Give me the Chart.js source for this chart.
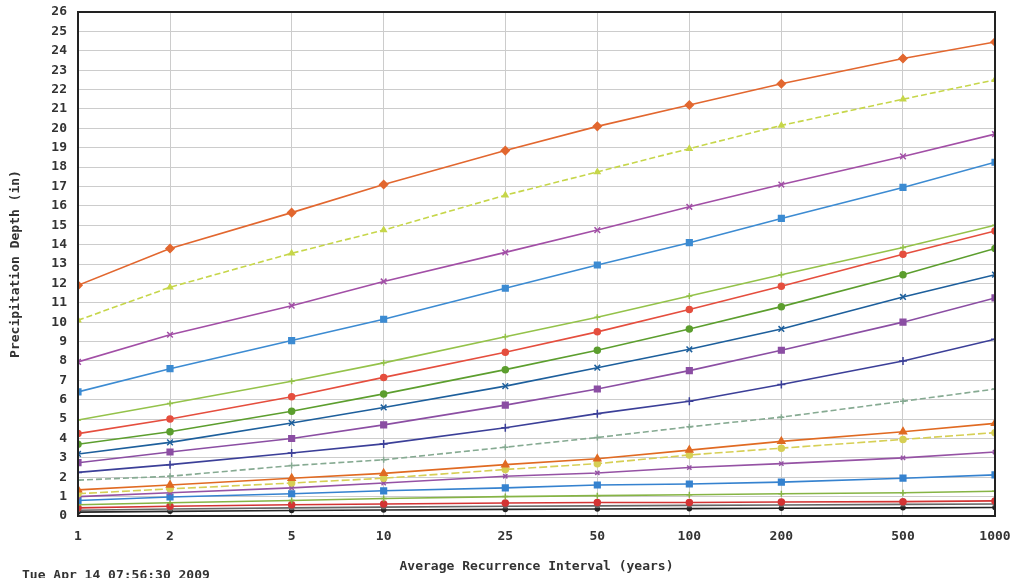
<!DOCTYPE html>
<html>
<head>
<meta charset="utf-8">
<script src="https://cdn.jsdelivr.net/npm/chart.js@4.4.1/dist/chart.umd.min.js"></script>
<style>
  html, body { margin: 0; padding: 0; background: #fff; }
  #wrap { width: 1017px; height: 578px; position: relative; }
</style>
</head>
<body>
<div id="wrap"><canvas id="pfChart"></canvas></div>
<script>
// recurrence intervals (years)
const ari = [1, 2, 5, 10, 25, 50, 100, 200, 500, 1000];
const yTicks = [0,1,2,3,4,5,6,7,8,9,10,11,12,13,14,15,16,17,18,19,20,21,22,23,24,25,26];

// depths (in) per duration
const d60day = [11.9, 13.8, 15.65, 17.1, 18.85, 20.1, 21.2, 22.3, 23.6, 24.45];
const d45day = [10.1, 11.8, 13.55, 14.75, 16.55, 17.75, 18.95, 20.15, 21.5, 22.5];
const d30day = [7.95, 9.35, 10.85, 12.1, 13.6, 14.75, 15.95, 17.1, 18.55, 19.7];
const d20day = [6.4, 7.6, 9.05, 10.15, 11.75, 12.95, 14.1, 15.35, 16.95, 18.25];
const d10day = [4.95, 5.8, 6.95, 7.9, 9.25, 10.25, 11.35, 12.45, 13.85, 15.0];
const d7day  = [4.25, 5.0, 6.15, 7.15, 8.45, 9.5, 10.65, 11.85, 13.5, 14.7];
const d4day  = [3.7, 4.35, 5.4, 6.3, 7.55, 8.55, 9.65, 10.8, 12.45, 13.8];
const d3day  = [3.2, 3.8, 4.8, 5.6, 6.7, 7.65, 8.6, 9.65, 11.3, 12.45];
const d2day  = [2.75, 3.3, 4.0, 4.7, 5.72, 6.55, 7.5, 8.55, 10.0, 11.25];
const d24hr  = [2.25, 2.65, 3.25, 3.72, 4.55, 5.28, 5.92, 6.78, 8.0, 9.12];
const d12hr  = [1.85, 2.05, 2.6, 2.9, 3.55, 4.05, 4.6, 5.1, 5.92, 6.55];
const d6hr   = [1.35, 1.6, 1.95, 2.2, 2.65, 2.95, 3.4, 3.85, 4.35, 4.78];
const d3hr   = [1.15, 1.4, 1.7, 1.95, 2.4, 2.7, 3.15, 3.5, 3.95, 4.3];
const d2hr   = [1.0, 1.2, 1.45, 1.7, 2.05, 2.22, 2.5, 2.7, 3.0, 3.3];
const d60min = [0.8, 0.98, 1.15, 1.3, 1.45, 1.6, 1.65, 1.75, 1.95, 2.12];
const d30min = [0.58, 0.68, 0.8, 0.9, 1.0, 1.05, 1.1, 1.15, 1.2, 1.28];
const d15min = [0.42, 0.5, 0.58, 0.62, 0.67, 0.7, 0.7, 0.72, 0.74, 0.78];
const d10min = [0.3, 0.36, 0.42, 0.46, 0.5, 0.52, 0.55, 0.57, 0.6, 0.62];
const d5min  = [0.2, 0.24, 0.28, 0.31, 0.34, 0.36, 0.38, 0.4, 0.42, 0.44];

const stamp = 'Tue Apr 14 07:56:30 2009';
const monoFont = '"DejaVu Sans Mono", "Liberation Mono", monospace';

function serie(label, vals, color, style, radius, dash) {
    return {
        label: label,
        data: vals.map((v, i) => ({ x: ari[i], y: v })),
        borderColor: color,
        backgroundColor: color,
        borderWidth: 1.6,
        borderDash: dash || [],
        pointStyle: style,
        pointRadius: radius,
        pointBorderWidth: 1.5,
        tension: 0,
        fill: false
    };
}

// moldura completa + texto de data no canto inferior
const framePlugin = {
    id: 'frame',
    afterDraw(chart) {
        const ctx = chart.ctx;
        const a = chart.chartArea;
        ctx.save();
        ctx.strokeStyle = '#222';
        ctx.lineWidth = 2;
        ctx.strokeRect(a.left, a.top, a.right - a.left, a.bottom - a.top);
        ctx.font = 'bold 13px ' + monoFont;
        ctx.fillStyle = '#333';
        ctx.textBaseline = 'top';
        ctx.fillText(stamp, 22, 569);
        ctx.restore();
    }
};

document.addEventListener('DOMContentLoaded', function() {
    const ctx = document.getElementById('pfChart');
    new Chart(ctx, {
        type: 'line',
        data: {
            datasets: [
                serie('60-day', d60day, '#e2672f', 'rectRot', 4),
                serie('45-day', d45day, '#c6d64a', 'triangle', 3, [6, 3]),
                serie('30-day', d30day, '#a24fa6', 'crossRot', 4),
                serie('20-day', d20day, '#3c8bd2', 'rect', 4),
                serie('10-day', d10day, '#94c24a', 'cross', 3),
                serie('7-day', d7day, '#e54e3e', 'circle', 3),
                serie('4-day', d4day, '#5c9e2e', 'circle', 3),
                serie('3-day', d3day, '#1d5f9c', 'crossRot', 4),
                serie('2-day', d2day, '#8b4ea3', 'rect', 4),
                serie('24-hr', d24hr, '#3b3f98', 'cross', 4),
                serie('12-hr', d12hr, '#86aa92', 'cross', 3, [6, 3]),
                serie('6-hr', d6hr, '#e06a22', 'triangle', 4),
                serie('3-hr', d3hr, '#d6cf55', 'circle', 3, [8, 3]),
                serie('2-hr', d2hr, '#9552a4', 'crossRot', 3),
                serie('60-min', d60min, '#3582cf', 'rect', 4),
                serie('30-min', d30min, '#86b445', 'cross', 3),
                serie('15-min', d15min, '#d33434', 'circle', 3),
                serie('10-min', d10min, '#666666', 'rect', 2),
                serie('5-min', d5min, '#222222', 'circle', 2)
            ]
        },
        options: {
            responsive: true,
            maintainAspectRatio: false,
            animation: false,
            layout: { padding: { left: 0, right: 22, top: 12, bottom: 0 } },
            plugins: {
                legend: { display: false },
                tooltip: { enabled: false }
            },
            scales: {
                x: {
                    type: 'logarithmic',
                    min: 1,
                    max: 1000,
                    afterBuildTicks: function(scale) {
                        scale.ticks = ari.map(v => ({ value: v }));
                    },
                    afterFit: function(scale) {
                        scale.height = 62;
                        scale.paddingRight = 0;
                        scale.paddingLeft = 0;
                    },
                    ticks: {
                        autoSkip: false,
                        maxRotation: 0,
                        padding: 13,
                        color: '#333',
                        font: { family: monoFont, size: 13, weight: 'bold' },
                        callback: function(value) { return String(value); }
                    },
                    grid: { color: '#cccccc', lineWidth: 1, drawTicks: false },
                    border: { color: '#222', width: 2 },
                    title: {
                        display: true,
                        text: 'Average Recurrence Interval (years)',
                        color: '#333',
                        padding: { top: 4 },
                        font: { family: monoFont, size: 13, weight: 'bold' }
                    }
                },
                y: {
                    min: 0,
                    max: 26,
                    afterBuildTicks: function(scale) {
                        scale.ticks = yTicks.map(v => ({ value: v }));
                    },
                    afterFit: function(scale) {
                        scale.width = 78;
                        scale.paddingTop = 0;
                        scale.paddingBottom = 0;
                    },
                    ticks: {
                        autoSkip: false,
                        padding: 11,
                        color: '#333',
                        font: { family: monoFont, size: 13, weight: 'bold' }
                    },
                    grid: { color: '#cccccc', lineWidth: 1, drawTicks: false },
                    border: { color: '#222', width: 2 },
                    title: {
                        display: true,
                        text: 'Precipitation Depth (in)',
                        color: '#333',
                        padding: { top: 8, bottom: 6 },
                        font: { family: monoFont, size: 13, weight: 'bold' }
                    }
                }
            }
        },
        plugins: [framePlugin]
    });
});
</script>
</body>
</html>
